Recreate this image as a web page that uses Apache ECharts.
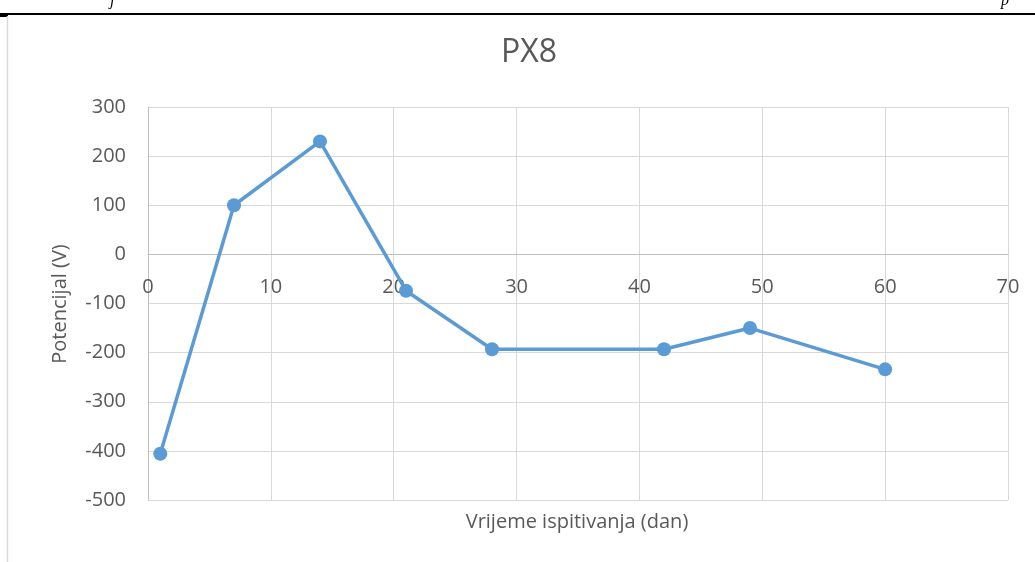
<!DOCTYPE html>
<html>
<head>
<meta charset="utf-8">
<script src="https://cdn.jsdelivr.net/npm/echarts@6/dist/echarts.min.js"></script>
<style>
  html, body { margin: 0; padding: 0; background: #ffffff; }
  #chart { width: 1035px; height: 562px; }
</style>
</head>
<body>
<div id="chart"></div>
<script>
// Measurement days and electrode potential for sample PX8
const days = [1, 7, 14, 21, 28, 42, 49, 60];
const potential = [-406, 100, 230, -74, -193, -193, -150, -234];

const chartTitle = 'PX8';
const xName = 'Vrijeme ispitivanja (dan)';
const yName = 'Potencijal (V)';

const textColor = '#595959';
const fontFamily = '"Open Sans", "Noto Sans", sans-serif';

// plot box and value range
const gridTop = 107, gridBottom = 62, chartHeight = 562;
const yMin = -500, yMax = 300;
const plotHeight = chartHeight - gridTop - gridBottom;
// distance from the bottom of the plot up to the y = 0 line, so the day axis sits on zero
const zeroLift = plotHeight * (0 - yMin) / (yMax - yMin);

const chart = echarts.init(document.getElementById('chart'), null, { renderer: 'canvas' });

chart.setOption({
  backgroundColor: '#ffffff',
  animation: false,
  title: {
    text: chartTitle,
    left: 524,
    top: 32,
    textAlign: 'center',
    textStyle: { color: textColor, fontSize: 32, fontWeight: 'normal', fontFamily: fontFamily }
  },
  grid: { left: 148, right: 27, top: gridTop, bottom: gridBottom },
  xAxis: {
    type: 'value',
    min: 0,
    max: 70,
    interval: 10,
    offset: -zeroLift,
    axisLine: { onZero: false, lineStyle: { color: '#bfbfbf', width: 1 } },
    axisTick: { show: false },
    axisLabel: { color: textColor, fontSize: 20, fontFamily: fontFamily, margin: 23 },
    splitLine: { show: true, lineStyle: { color: '#d9d9d9', width: 1 } }
  },
  yAxis: {
    type: 'value',
    min: yMin,
    max: yMax,
    interval: 100,
    axisLine: { show: true, onZero: false, lineStyle: { color: '#bfbfbf', width: 1 } },
    axisTick: { show: false },
    axisLabel: { color: textColor, fontSize: 20, fontFamily: fontFamily, margin: 22 },
    splitLine: { show: true, lineStyle: { color: '#d9d9d9', width: 1 } }
  },
  series: [{
    type: 'line',
    data: days.map((d, i) => [d, potential[i]]),
    symbol: 'circle',
    symbolSize: 14,
    lineStyle: { color: '#5b9bd5', width: 3.5 },
    itemStyle: { color: '#5b9bd5' },
    z: 3
  }],
  graphic: [
    // page rule above the chart and the chart frame's left edge
    { type: 'line', shape: { x1: 0, y1: 14, x2: 1035, y2: 14 }, style: { stroke: '#000000', lineWidth: 2 }, silent: true },
    { type: 'rect', shape: { x: 0, y: 13, width: 8, height: 4 }, style: { fill: '#000000' }, silent: true },
    { type: 'line', shape: { x1: 7.5, y1: 16, x2: 7.5, y2: 562 }, style: { stroke: '#d9d9d9', lineWidth: 1.5 }, silent: true },
    // descenders of the running text line above the rule
    { type: 'text', x: 110, y: 9, style: { text: 'j', fill: '#000000', font: 'italic 16px "Liberation Serif", serif', textAlign: 'left', textVerticalAlign: 'bottom' }, silent: true },
    { type: 'text', x: 1001, y: 9, style: { text: 'p', fill: '#000000', font: 'italic 16px "Liberation Serif", serif', textAlign: 'left', textVerticalAlign: 'bottom' }, silent: true },
    // axis titles
    { type: 'text', x: 577, y: 522, style: { text: xName, fill: textColor, font: '20px ' + fontFamily, textAlign: 'center', textVerticalAlign: 'middle' }, silent: true },
    { type: 'text', x: 60, y: 304, rotation: Math.PI / 2, style: { text: yName, fill: textColor, font: '20px ' + fontFamily, textAlign: 'center', textVerticalAlign: 'middle' }, silent: true }
  ]
});
</script>
</body>
</html>
